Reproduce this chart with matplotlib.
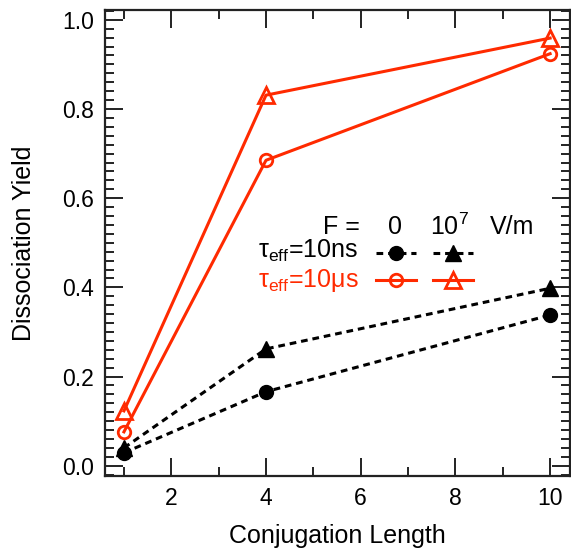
import matplotlib
matplotlib.use("Agg")
import matplotlib.pyplot as plt
from matplotlib.ticker import MultipleLocator, FormatStrFormatter
from matplotlib.lines import Line2D

plt.rcParams['font.family'] = ['Liberation Sans', 'DejaVu Sans']
plt.rcParams['mathtext.fontset'] = 'custom'
plt.rcParams['mathtext.rm'] = 'Liberation Sans'

conj_length = [1, 4, 10]
ns_F0 = [0.029, 0.166, 0.338]
ns_F7 = [0.040, 0.262, 0.398]
us_F0 = [0.076, 0.685, 0.924]
us_F7 = [0.123, 0.831, 0.959]

red = '#ff2a00'
dash = (0, (2.2, 1.6))
lw = 2.2
fig = plt.figure(figsize=(5.71, 5.49), dpi=100)
ax = fig.add_axes([105/571, 73/549, 465/571, 466/549])

ax.plot(conj_length, ns_F0, color='black', ls=dash, lw=lw,
        marker='o', ms=10, mfc='black', mec='black')
ax.plot(conj_length, ns_F7, color='black', ls=dash, lw=lw,
        marker='^', ms=11, mfc='black', mec='black')
ax.plot(conj_length, us_F0, color=red, lw=lw,
        marker='o', ms=9, mfc='none', mec=red, mew=2.0)
ax.plot(conj_length, us_F7, color=red, lw=lw,
        marker='^', ms=11, mfc='none', mec=red, mew=2.0)

ax.set_xlim(0.6, 10.42)
ax.set_ylim(-0.023, 1.022)
ax.xaxis.set_major_locator(MultipleLocator(2))
ax.xaxis.set_minor_locator(MultipleLocator(1))
ax.yaxis.set_major_locator(MultipleLocator(0.2))
ax.yaxis.set_minor_locator(MultipleLocator(0.02))
ax.yaxis.set_major_formatter(FormatStrFormatter('%.1f'))
ax.tick_params(which='both', direction='in', top=True, right=True, width=1.4,
               labelsize=16.5, color='#222222')
ax.tick_params(which='major', length=13, pad=8)
ax.tick_params(which='minor', length=6.5)
for s in ax.spines.values():
    s.set_linewidth(1.6)
    s.set_color('#222222')

ax.set_xlabel('Conjugation Length', fontsize=18, labelpad=10)
ax.set_ylabel('Dissociation Yield', fontsize=18, labelpad=19)

# legend
handles = [
    Line2D([], [], color='black', ls=dash, lw=lw, marker='o', ms=10, mfc='black'),
    Line2D([], [], color=red, lw=lw, marker='o', ms=9, mfc='none', mec=red, mew=2.0),
    Line2D([], [], color='black', ls=dash, lw=lw, marker='^', ms=11, mfc='black'),
    Line2D([], [], color=red, lw=lw, marker='^', ms=11, mfc='none', mec=red, mew=2.0),
]
leg = ax.legend(handles, ['', '', '', ''], ncol=2, frameon=False,
                handlelength=2.9, handletextpad=0.0, columnspacing=1.2,
                labelspacing=0.98, borderpad=0, loc='upper left',
                bbox_to_anchor=(0.568, 0.507))
fs = 18
ax.text(0.545, 0.482, '\u03c4$_\\mathregular{eff}$=10ns', transform=ax.transAxes,
        fontsize=fs, ha='right', va='center', color='black')
ax.text(0.545, 0.419, '\u03c4$_\\mathregular{eff}$=10\u03bcs', transform=ax.transAxes,
        fontsize=fs, ha='right', va='center', color=red)
ax.text(0.548, 0.535, 'F =', transform=ax.transAxes, fontsize=fs, ha='right', va='center')
ax.text(0.624, 0.535, '0', transform=ax.transAxes, fontsize=fs, ha='center', va='center')
ax.text(0.70, 0.535, '10$^\\mathregular{7}$', transform=ax.transAxes, fontsize=fs, ha='left', va='center')
ax.text(0.828, 0.535, 'V/m', transform=ax.transAxes, fontsize=fs, ha='left', va='center')

fig.savefig('out.png', dpi=100)
